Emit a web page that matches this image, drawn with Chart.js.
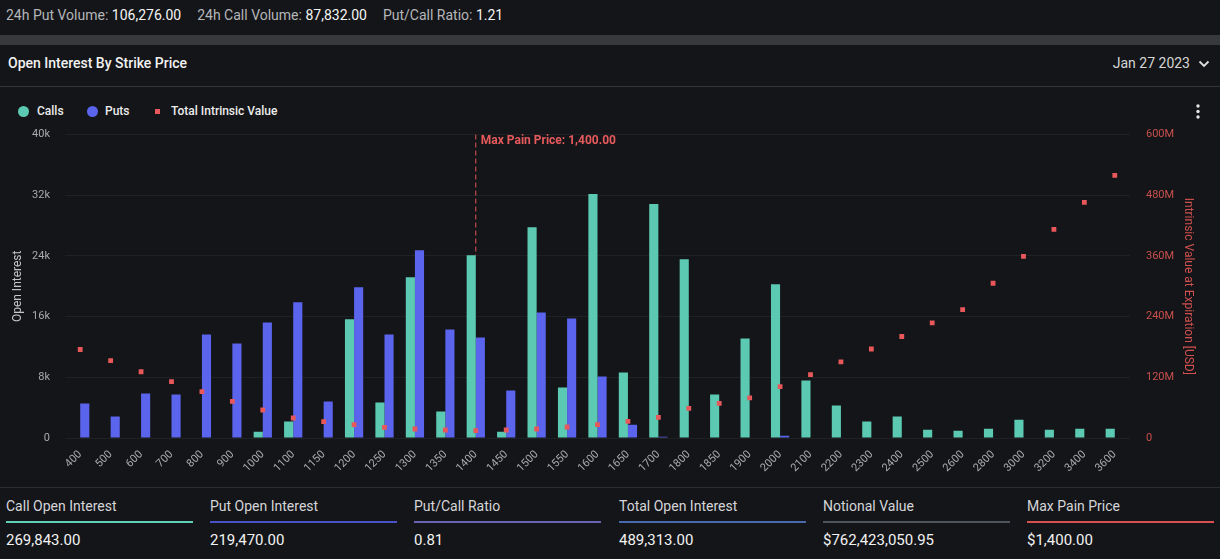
<!DOCTYPE html>
<html>
<head>
<meta charset="utf-8">
<script src="https://cdn.jsdelivr.net/npm/chart.js@4.4.1/dist/chart.umd.min.js"></script>
<style>
  body { margin: 0; background: #141518; width: 1220px; height: 559px; overflow: hidden; font-family: Roboto, "Noto Sans", sans-serif; position: relative; }
  .abs { position: absolute; }
  .topbar { top: 7px; left: 6px; font-size: 14px; color: #b4b6ba; white-space: nowrap; }
  .topbar span.v { color: #f4f4f4; }
  .topbar span.g { display: inline-block; width: 16px; }
  .band { top: 35px; left: 0; width: 1220px; height: 10px; background: #38393c; }
  .title { top: 55px; left: 8px; font-size: 14px; font-weight: 500; color: #f2f2f2; }
  .date { top: 55px; right: 30px; font-size: 14px; color: #d6d6d6; }
  .chev { top: 59px; left: 1198px; }
  .sep1 { top: 86px; left: 0; width: 1220px; height: 1px; background: #34353a; }
  .legend { top: 104px; left: 0; font-size: 12px; font-weight: 500; color: #ececec; }
  .legend .it { position: absolute; white-space: nowrap; top: 0; }
  .dot { position: absolute; border-radius: 50%; }
  .kebab { top: 104px; left: 1196px; }
  #wrap { position: absolute; top: 112px; left: 0; width: 1220px; height: 366px; }
  .sep2 { top: 487px; left: 0; width: 1220px; height: 1px; background: #2c2d31; }
  .stat { top: 498px; width: 187px; }
  .stat .t { font-size: 14px; color: #d4d5d8; height: 20px; }
  .stat .u { height: 2px; margin-top: 3px; }
  .stat .n { font-size: 15px; color: #f2f2f2; margin-top: 8px; }
</style>
</head>
<body>
<div class="abs topbar">24h Put Volume: <span class="v">106,276.00</span><span class="g"></span>24h Call Volume: <span class="v">87,832.00</span><span class="g"></span>Put/Call Ratio: <span class="v">1.21</span></div>
<div class="abs band"></div>
<div class="abs title">Open Interest By Strike Price</div>
<div class="abs date">Jan 27 2023</div>
<svg class="abs chev" width="12" height="10" viewBox="0 0 12 10"><path d="M1.5 2.5 L6 7 L10.5 2.5" stroke="#e0e0e0" stroke-width="1.8" fill="none"/></svg>
<div class="abs sep1"></div>
<div class="abs legend">
  <div class="it" style="left:18px"><span class="dot" style="left:0;top:2px;width:11px;height:11px;background:#5ccab2"></span><span style="position:absolute;left:19px">Calls</span></div>
  <div class="it" style="left:87px"><span class="dot" style="left:0;top:2px;width:11px;height:11px;background:#5a64ec"></span><span style="position:absolute;left:18px">Puts</span></div>
  <div class="it" style="left:155px"><span style="position:absolute;left:0;top:5px;width:5px;height:5px;background:#e8585b"></span><span style="position:absolute;left:16px">Total Intrinsic Value</span></div>
</div>
<svg class="abs kebab" width="4" height="15" viewBox="0 0 4 15"><circle cx="2" cy="2" r="1.7" fill="#e6e6e6"/><circle cx="2" cy="7.5" r="1.7" fill="#e6e6e6"/><circle cx="2" cy="13" r="1.7" fill="#e6e6e6"/></svg>
<div id="wrap"><canvas id="oi_Chart"></canvas></div>
<div class="abs sep2"></div>

<div class="abs stat" style="left:6px"><div class="t">Call Open Interest</div><div class="u" style="background:#62d0b8"></div><div class="n">269,843.00</div></div>
<div class="abs stat" style="left:210px"><div class="t">Put Open Interest</div><div class="u" style="background:#4a52c8"></div><div class="n">219,470.00</div></div>
<div class="abs stat" style="left:414px"><div class="t">Put/Call Ratio</div><div class="u" style="background:#6a62b3"></div><div class="n">0.81</div></div>
<div class="abs stat" style="left:619px"><div class="t">Total Open Interest</div><div class="u" style="background:#4a68ae"></div><div class="n">489,313.00</div></div>
<div class="abs stat" style="left:823px"><div class="t">Notional Value</div><div class="u" style="background:#50545e"></div><div class="n">$762,423,050.95</div></div>
<div class="abs stat" style="left:1027px"><div class="t">Max Pain Price</div><div class="u" style="background:#d9514f"></div><div class="n">$1,400.00</div></div>

<script>
const strikes = ["400", "500", "600", "700", "800", "900", "1000", "1100", "1150", "1200", "1250", "1300", "1350", "1400", "1450", "1500", "1550", "1600", "1650", "1700", "1800", "1850", "1900", "2000", "2100", "2200", "2300", "2400", "2500", "2600", "2800", "3000", "3200", "3400", "3600"];

const calls = [0, 0, 0, 0, 0, 0, 840, 2160, 0, 15640, 4670, 21190, 3480, 24100, 840, 27800, 6650, 32160, 8630, 30840, 23570, 5730, 13130, 20260, 7580, 4270, 2160, 2820, 1100, 970, 1230, 2420, 1100, 1230, 1230];

const puts = [4540, 2820, 5860, 5730, 13660, 12470, 15240, 17890, 4800, 19870, 13660, 24760, 14320, 13260, 6260, 16560, 15770, 8100, 1760, 180, 0, 0, 0, 300, 0, 0, 0, 0, 0, 0, 0, 0, 0, 0, 0];

const intrinsic = [175e6, 153e6, 131e6, 111.5e6, 91.7e6, 72.6e6, 55.4e6, 39.6e6, 32.3e6, 26.4e6, 21.1e6, 17.8e6, 15.8e6, 14.5e6, 15.8e6, 17.8e6, 21.8e6, 26.4e6, 33e6, 40.9e6, 58.7e6, 68.6e6, 79.2e6, 101.6e6, 125.4e6, 150.5e6, 176e6, 200.7e6, 227.7e6, 254e6, 306e6, 359e6, 412.5e6, 466e6, 519.5e6];

const oiTicks = [0, 8000, 16000, 24000, 32000, 40000];
const ivTicks = [0, 120e6, 240e6, 360e6, 480e6, 600e6];
const maxPain = "1400";

function drawChart() {

    // max pain dashed marker, placed with the chart's own scales
    const maxPainLine = {
        id: 'maxPainLine',
        afterDatasetsDraw(chart) {
            const idx = strikes.indexOf(maxPain);
            const x = chart.scales.x.getPixelForValue(idx);
            const yEnd = chart.scales.y.getPixelForValue(Math.max(calls[idx], puts[idx]));
            const c = chart.ctx;
            c.save();
            c.strokeStyle = '#e0555a';
            c.lineWidth = 1;
            c.setLineDash([5, 3]);
            c.beginPath();
            c.moveTo(x, chart.chartArea.top);
            c.lineTo(x, yEnd);
            c.stroke();
            c.setLineDash([]);
            c.fillStyle = '#e65a5c';
            c.font = 'bold 12px Roboto';
            c.textBaseline = 'middle';
            c.fillText('Max Pain Price: 1,400.00', x + 5, chart.chartArea.top + 6);
            c.restore();
        }
    };

    const ctx = document.getElementById('oi_Chart').getContext('2d');
    const oi_Chart = new Chart(ctx, {
        type: 'bar',
        data: {
            labels: strikes,
            datasets: [
                {
                    label: 'Total Intrinsic Value',
                    type: 'line',
                    data: intrinsic,
                    yAxisID: 'y1',
                    showLine: false,
                    pointStyle: 'rect',
                    pointRadius: 3.4,
                    pointBackgroundColor: '#e8585b',
                    pointBorderWidth: 0,
                    order: 0
                },
                {
                    label: 'Calls',
                    data: calls,
                    backgroundColor: '#5ccab2',
                    yAxisID: 'y',
                    order: 1
                },
                {
                    label: 'Puts',
                    data: puts,
                    backgroundColor: '#5a64ec',
                    yAxisID: 'y',
                    order: 1
                }
            ]
        },
        options: {
            responsive: true,
            maintainAspectRatio: false,
            animation: false,
            categoryPercentage: 0.6,
            barPercentage: 1.0,
            layout: { padding: { top: 16, left: 0, right: 0, bottom: 0 } },
            plugins: {
                legend: { display: false },
                tooltip: { enabled: false }
            },
            scales: {
                x: {
                    grid: { display: false },
                    border: { display: false },
                    afterFit: function(axis) { axis.height = 40; },
                    ticks: {
                        color: '#a8aaae',
                        font: { size: 11, family: 'Roboto' },
                        maxRotation: 45,
                        minRotation: 45,
                        autoSkip: false,
                        padding: 2
                    }
                },
                y: {
                    position: 'left',
                    min: 0,
                    max: 40000,
                    afterFit: function(axis) { axis.width = 65; },
                    afterBuildTicks: function(axis) {
                        axis.ticks = oiTicks.map(v => ({ value: v }));
                    },
                    ticks: {
                        color: '#a8aaae',
                        font: { size: 11, family: 'Roboto' },
                        padding: 15,
                        callback: function(value) {
                            return value === 0 ? '0' : (value / 1000) + 'k';
                        }
                    },
                    grid: { color: '#202124', drawTicks: false },
                    border: { display: false },
                    title: {
                        display: true,
                        text: 'Open Interest',
                        color: '#c4c6c9',
                        font: { size: 12, family: 'Roboto' },
                        padding: { top: 11, bottom: 2 }
                    }
                },
                y1: {
                    position: 'right',
                    min: 0,
                    max: 600e6,
                    afterFit: function(axis) { axis.width = 90; },
                    afterBuildTicks: function(axis) {
                        axis.ticks = ivTicks.map(v => ({ value: v }));
                    },
                    ticks: {
                        color: '#c8504e',
                        font: { size: 11, family: 'Roboto' },
                        padding: 16,
                        callback: function(value) {
                            return value === 0 ? '0' : (value / 1e6) + 'M';
                        }
                    },
                    grid: { display: false, drawTicks: false },
                    border: { display: false },
                    title: {
                        display: true,
                        text: 'Intrinsic Value at Expiration [USD]',
                        color: '#d0504f',
                        font: { size: 12, family: 'Roboto' },
                        padding: { top: 25, bottom: 0 }
                    }
                }
            }
        },
        plugins: [maxPainLine]
    });
}

document.addEventListener("DOMContentLoaded", function() {
    Promise.all([
        document.fonts.load('11px Roboto'),
        document.fonts.load('12px Roboto'),
        document.fonts.load('bold 12px Roboto')
    ]).then(drawChart, drawChart);
});
</script>
</body>
</html>
